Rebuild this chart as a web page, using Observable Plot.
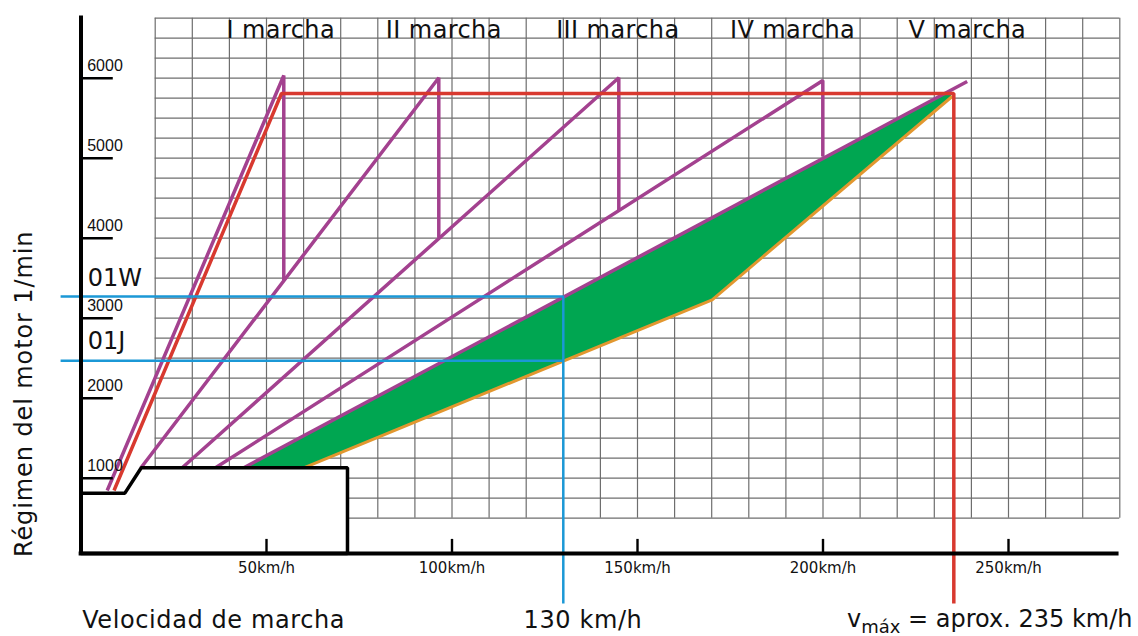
<!DOCTYPE html>
<html><head><meta charset="utf-8">
<script src="https://cdn.jsdelivr.net/npm/d3@7"></script>
<script src="https://cdn.jsdelivr.net/npm/@observablehq/plot@0.6"></script>
<style>
html,body{margin:0;padding:0;background:#fff;}
#chart svg{display:block;}
</style>
</head><body><div id="chart"></div>
<script>
// ---- data (speed km/h, engine rpm) ----
const gearI   = [[7.06, 846], [54.66, 6034], [54.66, 3471]];
const gearII  = [[16.17, 1130], [96.44, 6005], [96.44, 4005]];
const gearIII = [[27.28, 1130], [144.96, 6005], [144.96, 4346]];
const gearIV  = [[36.25, 1130], [199.95, 5971], [199.95, 5021]];
const gearV   = [[43.88, 1130], [238.86, 5959]];
const fullLoadLine = [[8.9, 846], [54.04, 5809], [235.26, 5809], [235.26, -566]];
const roadLoadLine = [[60.05, 1130], [170.13, 3230], [234.64, 5765]];
const greenBand = [[43.88, 1130], [234.0, 5839], [234.64, 5765], [170.13, 3230], [60.05, 1130]];
const line01W = [[-5.5, 3271], [130, 3271], [130, -566]];
const line01J = [[-5.5, 2467], [130, 2467]];
const idleBox = [[0, 60], [0, 813], [11.83, 813], [16.25, 1130], [71.83, 1130], [71.83, 60], [0, 60]];

const gearNames = ["I marcha", "II marcha", "III marcha", "IV marcha", "V marcha"];
const gearLabelSpeed = [53.85, 97.8, 144.7, 191.8, 238.9];
const gearLabelRpm = 6500;

const rpmTicks = [1000, 2000, 3000, 4000, 5000, 6000];
const rpmTickLabels = ["1000", "2000", "3000", "4000", "5000", "6000"];
const speedTicks = [50, 100, 150, 200, 250];
const speedTickLabels = ["50km/h", "100km/h", "150km/h", "200km/h", "250km/h"];

const markerNames = ["01W", "01J"];
const markerRpm = [3400, 2617];

const gridSpeeds = d3.range(20, 281, 10);
const gridRpms = d3.range(500, 6751, 250);

const axisRpm = 60;
const bottomLabelRpm = -870;
const bottomLabels = ["Velocidad de marcha", "130 km/h"];
const bottomLabelSpeed = [0.32, 119.3];
const vmaxLabelSpeed = 206.6;
const yTitle = "Régimen del motor 1/min";

// ---- build tables ----
const toRows = (arr, id) => arr.map(([v, rpm]) => ({id, v, rpm}));
const gearRows = [
  ...toRows(gearI, "I"), ...toRows(gearII, "II"), ...toRows(gearIII, "III"),
  ...toRows(gearIV, "IV"), ...toRows(gearV, "V")
];
const blueRows = [...toRows(line01W, "W"), ...toRows(line01J, "J")];

const purple = "#a3418f", red = "#d8392f", orange = "#e2972f", green = "#00a651", blue = "#1b98d6";
const wide = "'DejaVu Sans', Verdana, sans-serif";

const chart = Plot.plot({
  width: 1138, height: 636,
  marginTop: 0, marginRight: 0, marginBottom: 0, marginLeft: 0,
  style: {fontFamily: "'Liberation Sans', Arial, sans-serif", background: "#fff", overflow: "visible", color: "#111"},
  x: {domain: [0, 250], range: [80.5, 80.5 + 250 * 3.71], axis: null},
  y: {domain: [1000, 6000], range: [477.7, 77.7], axis: null},
  marks: [
    Plot.ruleX(gridSpeeds, {x: d => d, y1: 500, y2: 6750, stroke: "#6e6e6e", strokeWidth: 1.2}),
    Plot.ruleY(gridRpms, {y: d => d, x1: 20, x2: 280, stroke: "#6e6e6e", strokeWidth: 1.2}),
    Plot.line(toRows(greenBand, "g"), {x: "v", y: "rpm", fill: green, stroke: "none"}),
    Plot.line(gearRows, {x: "v", y: "rpm", z: "id", stroke: purple, strokeWidth: 3.5, strokeLinejoin: "miter", strokeLinecap: "butt"}),
    Plot.line(toRows(roadLoadLine, "o"), {x: "v", y: "rpm", stroke: orange, strokeWidth: 3, strokeLinejoin: "miter"}),
    Plot.line(toRows(fullLoadLine, "r"), {x: "v", y: "rpm", stroke: red, strokeWidth: 3.5, strokeLinejoin: "miter", strokeLinecap: "butt"}),
    Plot.line(blueRows, {x: "v", y: "rpm", z: "id", stroke: blue, strokeWidth: 2.5, strokeLinejoin: "miter", strokeLinecap: "butt"}),
    Plot.line(toRows(idleBox, "b"), {x: "v", y: "rpm", fill: "#fff", stroke: "#000", strokeWidth: 3.5, strokeLinejoin: "miter"}),
    Plot.ruleX([0], {x: d => d, y1: axisRpm, y2: 6779, stroke: "#000", strokeWidth: 4}),
    Plot.ruleY([axisRpm], {y: d => d, x1: -0.5, x2: 279.8, stroke: "#000", strokeWidth: 4}),
    Plot.ruleY(rpmTicks, {y: d => d, x1: 0, x2: 8.7, stroke: "#000", strokeWidth: 2.6}),
    Plot.ruleX(speedTicks, {x: d => d, y1: axisRpm, y2: axisRpm + 175, stroke: "#000", strokeWidth: 2.4}),
    Plot.text(rpmTicks, {x: 1.67, y: d => d, text: (d, i) => rpmTickLabels[i], textAnchor: "start", lineAnchor: "bottom", dy: -7, fontSize: 16, fill: "#111"}),
    Plot.text(speedTicks, {x: d => d, y: axisRpm, text: (d, i) => speedTickLabels[i], textAnchor: "middle", lineAnchor: "bottom", dy: 20, fontSize: 15, fill: "#111", fontFamily: wide}),
    Plot.text(gearNames, {x: (d, i) => gearLabelSpeed[i], y: gearLabelRpm, text: d => d, textAnchor: "middle", lineAnchor: "bottom", fontSize: 24, fill: "#111", fontFamily: wide}),
    Plot.text(markerNames, {x: 1.83, y: (d, i) => markerRpm[i], text: d => d, textAnchor: "start", lineAnchor: "bottom", fontSize: 24, fill: "#111", fontFamily: wide}),
    Plot.text(bottomLabels, {x: (d, i) => bottomLabelSpeed[i], y: bottomLabelRpm, text: d => d, textAnchor: "start", lineAnchor: "bottom", fontSize: 24, fill: "#111", fontFamily: wide}),
    Plot.text([yTitle], {x: -15.23, y: 2055, text: d => d, rotate: -90, textAnchor: "middle", lineAnchor: "middle", fontSize: 24, fill: "#111", fontFamily: wide})
  ]
});

// letter spacing per label group
const spacing = new Map();
gearNames.forEach(n => spacing.set(n, "0.4px"));
markerNames.forEach(n => spacing.set(n, "0px"));
bottomLabels.forEach(n => spacing.set(n, "0.6px"));
spacing.set(yTitle, "0.9px");
d3.select(chart).selectAll("text").each(function () {
  const s = spacing.get(this.textContent);
  if (s) this.style.letterSpacing = s;
});

// v_max label with subscript
const xs = chart.scale("x"), ys = chart.scale("y");
const t = d3.select(chart).append("text")
  .attr("x", xs.apply(vmaxLabelSpeed))
  .attr("y", ys.apply(bottomLabelRpm))
  .attr("text-anchor", "start")
  .attr("font-family", wide)
  .attr("font-size", 24)
  .attr("fill", "#111");
t.append("tspan").text("v");
t.append("tspan").attr("font-size", 18).attr("dy", 6).text("máx");
t.append("tspan").attr("dy", -6).text(" = aprox. 235 km/h");

document.getElementById("chart").appendChild(chart);
</script></body></html>
